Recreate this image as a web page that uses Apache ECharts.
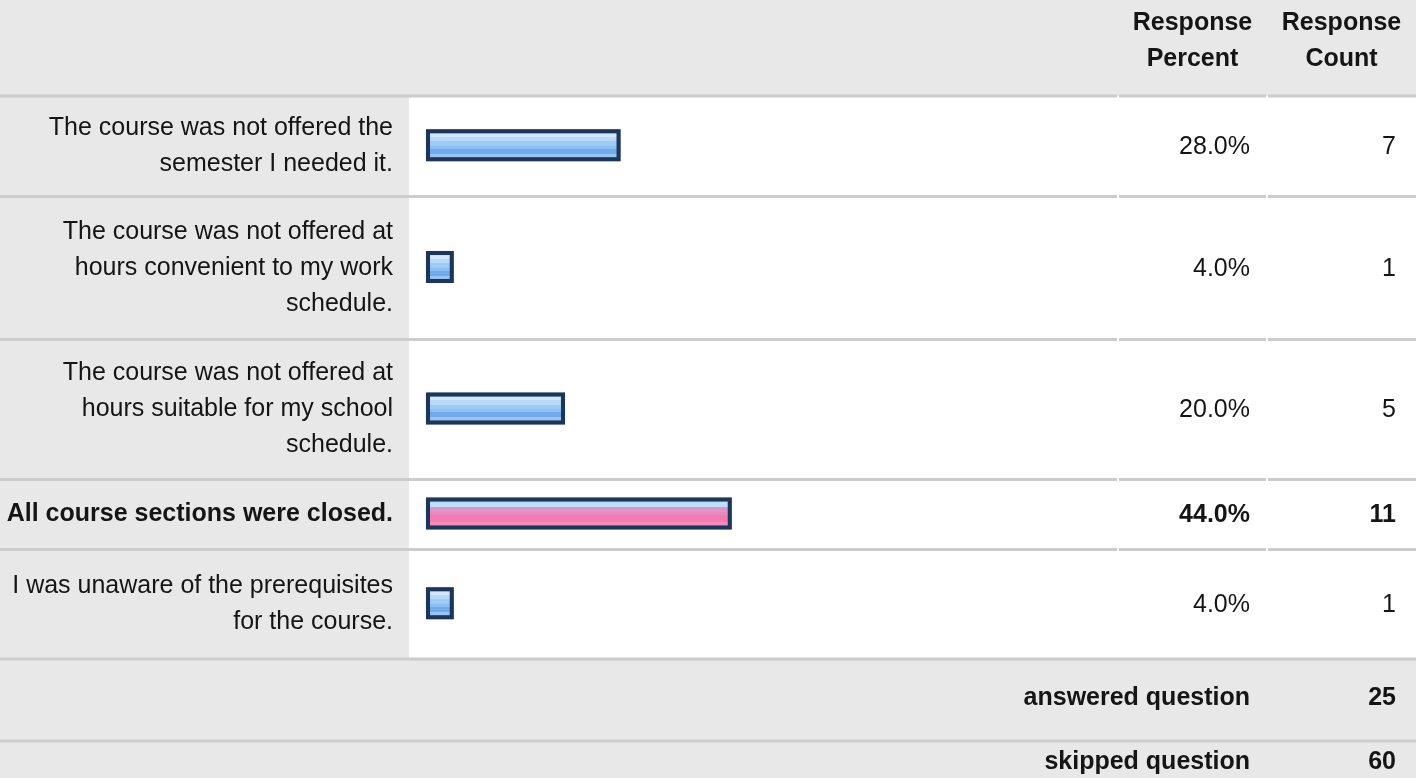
<!DOCTYPE html>
<html>
<head>
<meta charset="utf-8">
<title>Reasons for not taking the course</title>
<script src="https://cdn.jsdelivr.net/npm/echarts@6/dist/echarts.min.js"></script>
<style>
  html, body { margin: 0; padding: 0; background: #ffffff; }
  #chart { width: 1416px; height: 778px; }
</style>
</head>
<body>
<div id="chart"></div>
<script>
// ---- survey results ----
const categories = [
  'The course was not offered the\nsemester I needed it.',
  'The course was not offered at\nhours convenient to my work\nschedule.',
  'The course was not offered at\nhours suitable for my school\nschedule.',
  'All course sections were closed.',
  'I was unaware of the prerequisites\nfor the course.'
];
const percents = [28.0, 4.0, 20.0, 44.0, 4.0];
const counts = [7, 1, 5, 11, 1];
const headerPercent = 'Response\nPercent';
const headerCount = 'Response\nCount';
const summaryLabels = ['answered question', 'skipped question'];
const summaryValues = [25, 60];

// ---- table layout ----
const W = 1416, H = 778;
const FONT = '"Liberation Sans", Arial, Helvetica, sans-serif';
const FS = 25;
const LABEL_COL_RIGHT = 409;      // end of the grey label column
const BAR_LEFT = 426;             // where the bar scale starts
const BAR_SPAN = 695;             // pixels for 0..100 %
const COL1_X = 1118, COL2_X = 1267;
const PCT_RIGHT = 1250, CNT_RIGHT = 1396;
const rules = [96, 196.5, 339.5, 479.5, 549.5, 659, 741];   // horizontal rules (centre y)
const RULE_W = 3;
const GREY = '#e8e8e8', RULE = '#cccccc', INK = '#151515';

const topIdx = percents.indexOf(Math.max(...percents));

function band(stops) {
  const cs = [];
  stops.forEach(([a, b, c]) => { cs.push({ offset: a, color: c }, { offset: b, color: c }); });
  return { type: 'linear', x: 0, y: 0, x2: 0, y2: 1, colorStops: cs };
}
const blueFill = band([
  [0, 0.1, '#f4f9ff'], [0.1, 0.24, '#d3e8fd'], [0.24, 0.38, '#b8dafa'],
  [0.38, 0.52, '#9fcbf7'], [0.52, 0.62, '#8cc0f4'], [0.62, 0.78, '#72abec'],
  [0.78, 0.9, '#98c6f4'], [0.9, 1, '#c3dffa']
]);
const pinkFill = band([
  [0, 0.3, '#bfe0fb'], [0.3, 0.44, '#e295c7'], [0.44, 0.56, '#e98abf'],
  [0.56, 0.78, '#f47aaf'], [0.78, 0.9, '#f58cbe'], [0.9, 1, '#1a1a1a']
]);

// ---- graphic: backgrounds, rules and table text ----
const g = [];
g.push({ type: 'rect', z: 0, shape: { x: 0, y: 0, width: W, height: rules[0] }, style: { fill: GREY } });
g.push({ type: 'rect', z: 0, shape: { x: 0, y: rules[0], width: LABEL_COL_RIGHT, height: rules[5] - rules[0] }, style: { fill: GREY } });
g.push({ type: 'rect', z: 0, shape: { x: 0, y: rules[5], width: W, height: H - rules[5] }, style: { fill: GREY } });

rules.forEach((y, i) => {
  const segs = (i >= 5) ? [[0, W]] : [[0, COL1_X - 1], [COL1_X + 1, COL2_X - 1], [COL2_X + 1, W]];
  segs.forEach(([a, b]) => g.push({
    type: 'rect', z: 1, shape: { x: a, y: y - RULE_W / 2, width: b - a, height: RULE_W },
    style: { fill: RULE }
  }));
});

function txt(text, x, y, align, bold) {
  return {
    type: 'text', z: 5,
    style: {
      text: text, x: x, y: y, align: align, verticalAlign: 'middle',
      textAlign: align, textVerticalAlign: 'middle',
      font: (bold ? 'bold ' : '') + FS + 'px ' + FONT,
      fill: INK, lineHeight: 36
    }
  };
}

g.push(txt(headerPercent, (COL1_X + COL2_X) / 2, 41, 'center', true));
g.push(txt(headerCount, (COL2_X + W) / 2, 41, 'center', true));

categories.forEach((c, i) => {
  const cy = (rules[i] + rules[i + 1]) / 2;
  const b = i === topIdx;
  g.push(txt(c, 393, cy, 'right', b));
  g.push(txt(percents[i].toFixed(1) + '%', PCT_RIGHT, cy + 1, 'right', b));
  g.push(txt(String(counts[i]), CNT_RIGHT, cy + 1, 'right', b));
});

g.push(txt(summaryLabels[0], PCT_RIGHT, 698, 'right', true));
g.push(txt(String(summaryValues[0]), CNT_RIGHT, 698, 'right', true));
g.push(txt(summaryLabels[1], PCT_RIGHT, 762, 'right', true));
g.push(txt(String(summaryValues[1]), CNT_RIGHT, 762, 'right', true));

// ---- one grid per answer row, bars scaled 0..100 % ----
const grids = [], xAxes = [], yAxes = [], series = [];
categories.forEach((c, i) => {
  const top = rules[i] + RULE_W / 2;
  const h = rules[i + 1] - rules[i] - RULE_W;
  grids.push({ left: BAR_LEFT, top: top - 1, width: BAR_SPAN, height: h, containLabel: false });
  xAxes.push({ gridIndex: i, type: 'value', min: 0, max: 100, show: false });
  yAxes.push({ gridIndex: i, type: 'category', data: [c], show: false });
  series.push({
    type: 'bar', xAxisIndex: i, yAxisIndex: i, z: 10,
    data: [percents[i]], barWidth: 32, silent: true,
    itemStyle: {
      color: i === topIdx ? pinkFill : blueFill,
      borderColor: '#1d3557', borderWidth: 4,
      shadowColor: 'rgba(120,140,170,0.7)', shadowBlur: 1
    }
  });
});

const chart = echarts.init(document.getElementById('chart'), null, { renderer: 'canvas' });
chart.setOption({
  backgroundColor: '#ffffff',
  animation: false,
  grid: grids,
  xAxis: xAxes,
  yAxis: yAxes,
  series: series,
  graphic: g
});
</script>
</body>
</html>
